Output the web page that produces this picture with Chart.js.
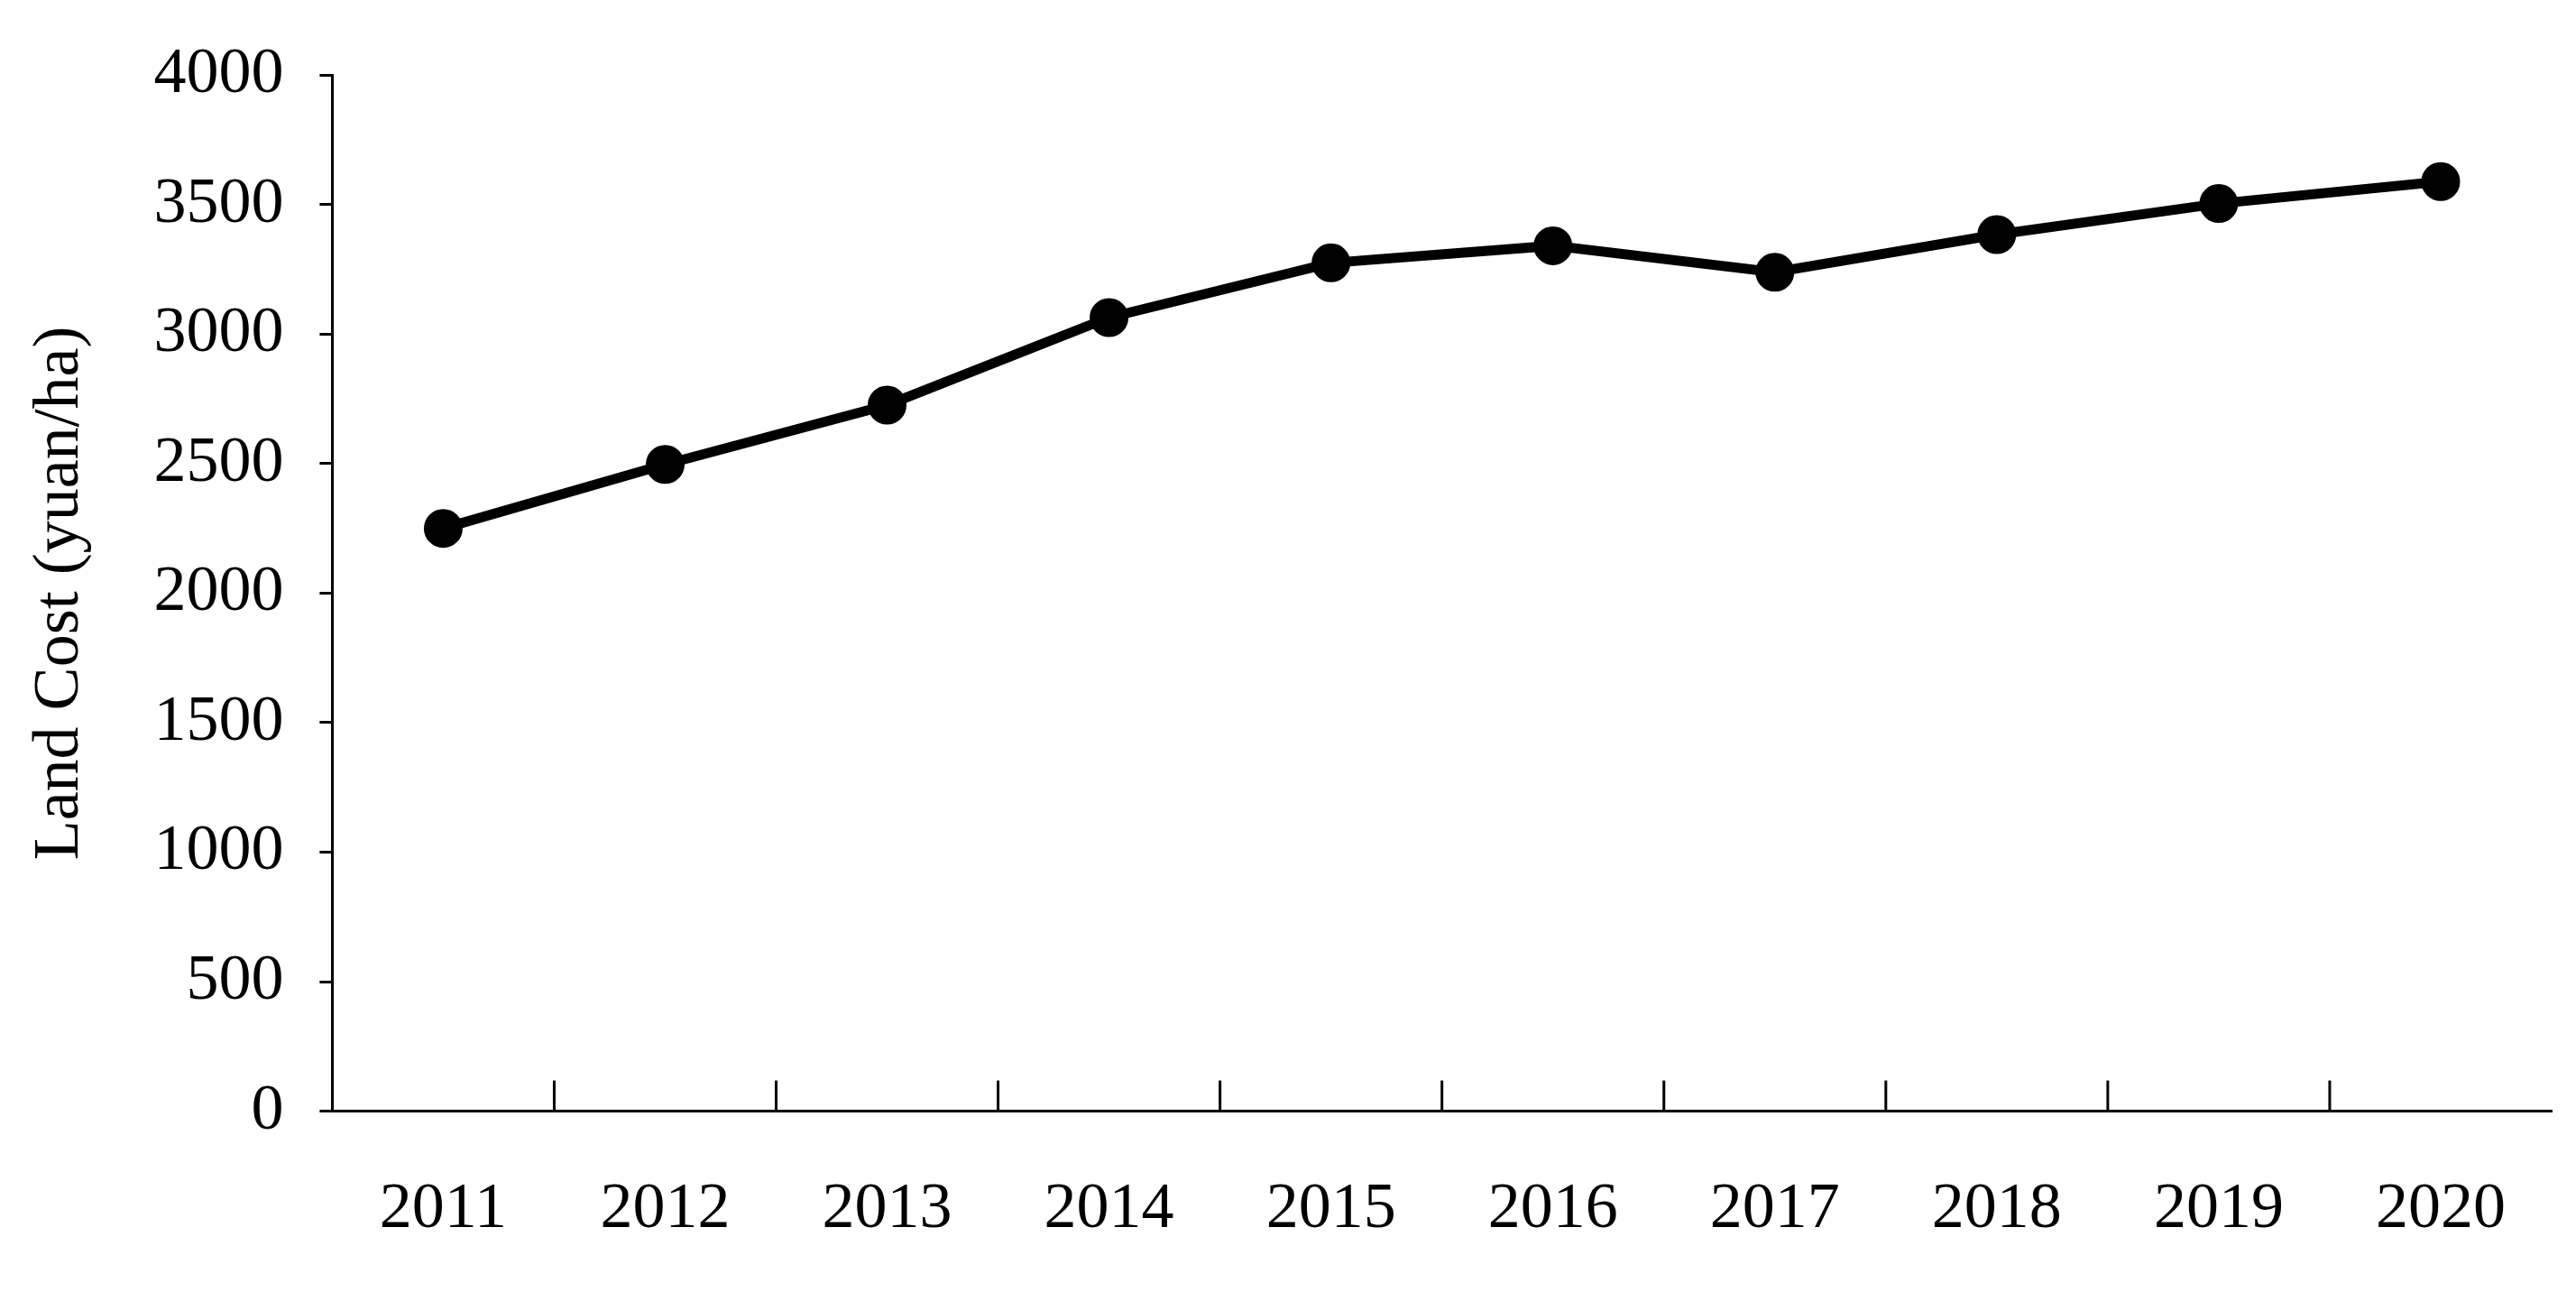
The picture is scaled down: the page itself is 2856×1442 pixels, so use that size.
<!DOCTYPE html>
<html>
<head>
<meta charset="utf-8">
<script src="https://cdn.jsdelivr.net/npm/chart.js@4"></script>
<style>
  html, body { margin: 0; padding: 0; background: #fff; }
  #wrap { width: 2856px; height: 1442px; }
</style>
</head>
<body>
<div id="wrap"><canvas id="myChart"></canvas></div>
<script>
// Data
const years = ["2011", "2012", "2013", "2014", "2015", "2016", "2017", "2018", "2019", "2020"];
const landCost = [2250, 2497, 2726, 3064, 3275, 3341, 3239, 3384, 3504, 3589];
const yTicks = [0, 500, 1000, 1500, 2000, 2500, 3000, 3500, 4000];

const font = { family: "'Liberation Serif', 'Times New Roman', serif", size: 72 };

// inward tick marks between categories on the x axis
const innerTicks = {
  id: "innerTicks",
  afterDraw(chart) {
    const x = chart.scales.x;
    const ctx = chart.ctx;
    const bottom = chart.chartArea.bottom;
    const step = x.getPixelForValue(1) - x.getPixelForValue(0);
    ctx.save();
    ctx.strokeStyle = "#000";
    ctx.lineWidth = 3;
    for (let i = 1; i < years.length; i++) {
      const px = x.getPixelForValue(i) - step / 2;
      ctx.beginPath();
      ctx.moveTo(px, bottom);
      ctx.lineTo(px, bottom - 34);
      ctx.stroke();
    }
    ctx.restore();
  },
};

new Chart("myChart", {
  type: "line",
  data: {
    labels: years,
    datasets: [
      {
        data: landCost,
        borderColor: "#000",
        backgroundColor: "#000",
        borderWidth: 11,
        pointRadius: 16,
        pointBackgroundColor: "#000",
        tension: 0,
      },
    ],
  },
  options: {
    responsive: true,
    maintainAspectRatio: false,
    animation: false,
    layout: { padding: { left: 20, right: 12, top: 53, bottom: 0 } },
    plugins: { legend: { display: false }, tooltip: { enabled: false } },
    scales: {
      x: {
        offset: true,
        grid: { display: false },
        border: { color: "#000", width: 3 },
        ticks: { color: "#000", font: font, padding: 58, maxRotation: 0 },
      },
      y: {
        min: 0,
        max: 4000,
        afterBuildTicks: (axis) => {
          axis.ticks = yTicks.map((v) => ({ value: v }));
        },
        grid: { drawOnChartArea: false, tickLength: 14, color: "#000", lineWidth: 3 },
        border: { color: "#000", width: 3 },
        ticks: { color: "#000", font: font, padding: 40, callback: (v) => String(v) },
        title: {
          display: true,
          text: "Land Cost (yuan/ha)",
          color: "#000",
          font: font,
          padding: { bottom: 20 },
        },
      },
    },
  },
  plugins: [innerTicks],
});
</script>
</body>
</html>
